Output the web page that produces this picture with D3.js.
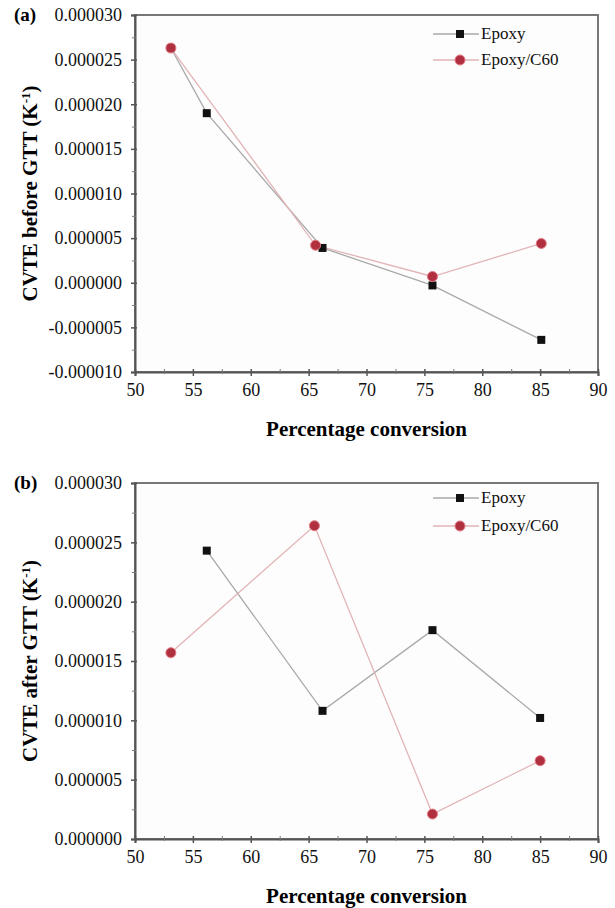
<!DOCTYPE html>
<html>
<head>
<meta charset="utf-8">
<script src="https://cdn.jsdelivr.net/npm/d3@7"></script>
<style>
  body { margin: 0; background: #fff; }
  svg { display: block; }
  svg text { font-family: "Liberation Serif", "DejaVu Serif", serif; }
</style>
</head>
<body>
<svg id="fig" width="615" height="908"></svg>
<script>
// x values (percentage conversion) and CVTE values
var xTicks = [50, 55, 60, 65, 70, 75, 80, 85, 90];
var xMinor = [52.5, 57.5, 62.5, 67.5, 72.5, 77.5, 82.5, 87.5];

// panel (a): before GTT
var beforeEpoxyX = [53.1, 56.2, 66.2, 75.7, 85.1];
var beforeEpoxyY = [0.0000263, 0.0000190, 0.0000039, -0.0000003, -0.0000064];
var beforeC60X = [53.1, 65.6, 75.7, 85.1];
var beforeC60Y = [0.0000263, 0.0000042, 0.0000007, 0.0000044];
var beforeTicks = [-0.00001, -0.000005, 0, 0.000005, 0.00001, 0.000015, 0.00002, 0.000025, 0.00003];

// panel (b): after GTT
var afterEpoxyX = [56.2, 66.2, 75.7, 85.0];
var afterEpoxyY = [0.0000243, 0.0000108, 0.0000176, 0.0000102];
var afterC60X = [53.1, 65.5, 75.7, 85.0];
var afterC60Y = [0.0000157, 0.0000264, 0.0000021, 0.0000066];
var afterTicks = [0, 0.000005, 0.00001, 0.000015, 0.00002, 0.000025, 0.00003];

var seriesNames = ["Epoxy", "Epoxy/C60"];

var serif = "Liberation Serif, DejaVu Serif, serif";

var svg = d3.select("#fig");

var zip = function(xs, ys) {
  return xs.map(function(x, i) { return {x: x, y: ys[i]}; });
};

var drawPanel = function(opt)
{
  var xScale = d3.scaleLinear()
                 .domain([50, 90])
                 .range([135, 598]);
  var yScale = d3.scaleLinear()
                 .domain(opt.yDomain)
                 .range([opt.bottom, opt.top]);

  var g = svg.append("g").classed("panel", true);

  // frame
  g.append("rect")
   .attr("x", 135).attr("y", opt.top)
   .attr("width", 598 - 135).attr("height", opt.bottom - opt.top)
   .attr("fill", "#fdfdfd")
   .attr("stroke", "#777")
   .attr("stroke-width", 2);

  // minor y ticks (midpoints)
  var yMinor = opt.ticks.slice(1).map(function(t, i) { return (t + opt.ticks[i]) / 2; });

  var yAxis = d3.axisLeft(yScale)
                .tickValues(opt.ticks)
                .tickSize(4)
                .tickPadding(9)
                .tickFormat(function(d) { return d.toFixed(6); });
  var ya = g.append("g").attr("transform", "translate(135,0)").call(yAxis)
            .attr("font-family", serif).attr("font-size", 18);
  ya.selectAll(".tick line").attr("x1", 2).attr("stroke", "#555").attr("stroke-width", 1.5);
  ya.selectAll(".tick text").attr("fill", "#111");
  ya.select(".domain").attr("stroke", "#555").attr("stroke-width", 2);

  var yMinorAxis = d3.axisLeft(yScale).tickValues(yMinor).tickSize(3).tickFormat("");
  var ym = g.append("g").attr("transform", "translate(135,0)").call(yMinorAxis);
  ym.select(".domain").remove();
  ym.selectAll(".tick line").attr("x1", 1).attr("stroke", "#777");

  var xAxis = d3.axisBottom(xScale)
                .tickValues(xTicks)
                .tickSize(4)
                .tickPadding(7)
                .tickFormat(d3.format("d"));
  var xa = g.append("g").attr("transform", "translate(0," + opt.bottom + ")").call(xAxis)
            .attr("font-family", serif).attr("font-size", 18);
  xa.selectAll(".tick line").attr("y1", -3).attr("stroke", "#555").attr("stroke-width", 1.5);
  xa.selectAll(".tick text").attr("fill", "#111");
  xa.select(".domain").attr("stroke", "#555").attr("stroke-width", 2);

  var xMinorAxis = d3.axisBottom(xScale).tickValues(xMinor).tickSize(2).tickFormat("");
  var xm = g.append("g").attr("transform", "translate(0," + opt.bottom + ")").call(xMinorAxis);
  xm.select(".domain").remove();
  xm.selectAll(".tick line").attr("y1", -3).attr("stroke", "#777");

  // series
  var line = d3.line()
               .x(function(d) { return xScale(d.x); })
               .y(function(d) { return yScale(d.y); });

  var epoxy = zip(opt.epoxyX, opt.epoxyY);
  var c60 = zip(opt.c60X, opt.c60Y);

  g.append("path").datum(epoxy)
   .attr("d", line).attr("fill", "none")
   .attr("stroke", "#a9a9a9").attr("stroke-width", 1.3);
  g.append("path").datum(c60)
   .attr("d", line).attr("fill", "none")
   .attr("stroke", "#e2b4b6").attr("stroke-width", 1.3);

  g.selectAll("rect.sq").data(epoxy).enter()
   .append("rect").classed("sq", true)
   .attr("x", function(d) { return xScale(d.x) - 4; })
   .attr("y", function(d) { return yScale(d.y) - 4; })
   .attr("width", 8).attr("height", 8)
   .attr("fill", "#111");

  g.selectAll("circle.dot").data(c60).enter()
   .append("circle").classed("dot", true)
   .attr("cx", function(d) { return xScale(d.x); })
   .attr("cy", function(d) { return yScale(d.y); })
   .attr("r", 5)
   .attr("fill", "#b0303f")
   .attr("stroke", "#e07a84").attr("stroke-width", 1);

  // legend
  var legend = g.append("g")
                .attr("transform", "translate(433," + opt.legendY + ")");
  var rows = legend.selectAll("g").data(seriesNames).enter()
                   .append("g")
                   .attr("transform", function(d, i) { return "translate(0," + (i * opt.legendGap) + ")"; });
  rows.append("line")
      .attr("x1", 0).attr("x2", 46).attr("y1", 0).attr("y2", 0)
      .attr("stroke", function(d, i) { return i === 0 ? "#a9a9a9" : "#e2b4b6"; })
      .attr("stroke-width", 1.5);
  rows.filter(function(d, i) { return i === 0; })
      .append("rect").attr("x", 23).attr("y", -4).attr("width", 8).attr("height", 8).attr("fill", "#111");
  rows.filter(function(d, i) { return i === 1; })
      .append("circle").attr("cx", 27).attr("cy", 0).attr("r", 5)
      .attr("fill", "#b0303f").attr("stroke", "#e07a84");
  rows.append("text")
      .attr("x", 48).attr("y", 5)
      .attr("font-family", serif)
      .attr("font-size", 17).attr("fill", "#111")
      .text(function(d) { return d; });

  // axis titles
  g.append("text")
   .attr("x", (135 + 598) / 2).attr("y", opt.bottom + 64)
   .attr("text-anchor", "middle")
   .attr("font-family", serif)
   .attr("font-size", 21).attr("font-weight", "bold")
   .text("Percentage conversion");

  var yt = g.append("text")
            .attr("transform", "translate(37," + ((opt.top + opt.bottom) / 2) + ") rotate(-90)")
            .attr("text-anchor", "middle")
            .attr("font-family", serif)
            .attr("font-size", 21).attr("font-weight", "bold");
  yt.append("tspan").text(opt.yTitle + " (K");
  yt.append("tspan").attr("dy", -7).attr("font-size", 13).text("-1");
  yt.append("tspan").attr("dy", 7).text(")");

  // panel letter
  g.append("text")
   .attr("x", 14).attr("y", opt.top + 6)
   .attr("font-family", serif)
   .attr("font-size", 19).attr("font-weight", "bold")
   .text(opt.letter);
};

drawPanel({
  top: 15, bottom: 372, yDomain: [-0.00001, 0.00003], ticks: beforeTicks,
  epoxyX: beforeEpoxyX, epoxyY: beforeEpoxyY, c60X: beforeC60X, c60Y: beforeC60Y,
  legendY: 34, legendGap: 26, yTitle: "CVTE before GTT", letter: "(a)"
});

drawPanel({
  top: 483, bottom: 839, yDomain: [0, 0.00003], ticks: afterTicks,
  epoxyX: afterEpoxyX, epoxyY: afterEpoxyY, c60X: afterC60X, c60Y: afterC60Y,
  legendY: 498, legendGap: 28, yTitle: "CVTE after GTT", letter: "(b)"
});
</script>
</body>
</html>
